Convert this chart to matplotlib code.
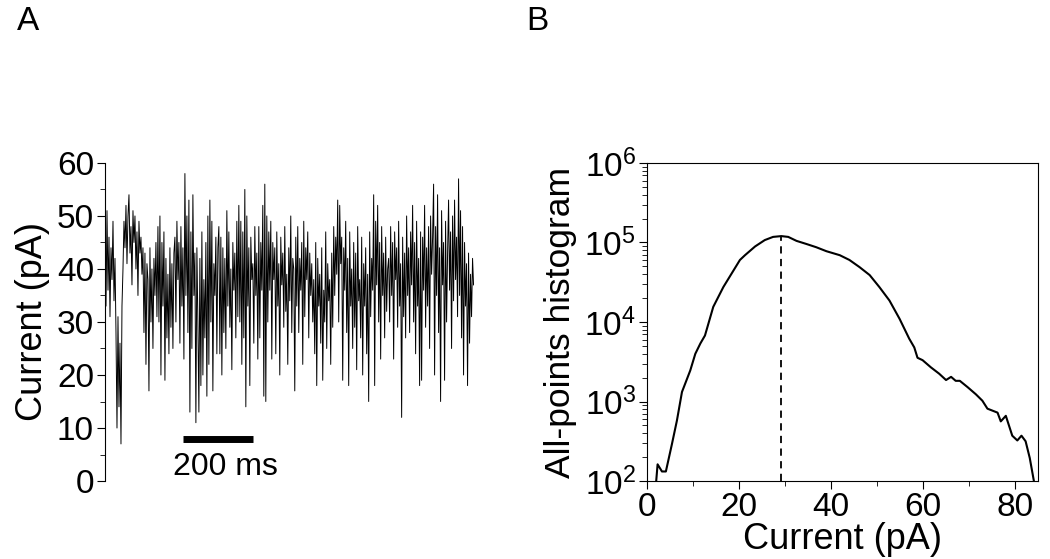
import matplotlib
matplotlib.use("Agg")
import matplotlib.pyplot as plt
from matplotlib.ticker import MultipleLocator, LogLocator, NullFormatter
import numpy as np

plt.rcParams['font.family'] = ['Liberation Sans', 'DejaVu Sans']
plt.rcParams['mathtext.fontset'] = 'custom'
plt.rcParams['mathtext.rm'] = 'Liberation Sans'

trace = [
    48, 33, 51, 36, 46, 31, 44, 38, 49, 34, 42,
    28, 10, 31, 14, 26, 7, 33,
    40, 49, 44, 52, 41, 50, 54, 43, 48, 37, 51, 45, 50, 40, 47, 35, 49, 43, 46, 39, 44,
    28, 43, 22, 41, 38, 17, 44, 30, 40, 25, 42, 35, 45, 31,
    48, 30, 50, 20, 45, 33, 47, 19, 42, 27, 39, 24, 44, 29, 41, 25, 43,
    46, 30, 49, 38, 45, 26, 48, 33, 44, 23, 58, 35, 50, 28, 53, 13, 47, 25, 54, 35, 43, 11, 44, 30,
    13, 42, 18, 47, 20, 38, 27, 45, 16, 50, 22, 53, 30, 49, 17, 41, 35, 46, 24, 44,
    48, 24, 46, 20, 44, 28, 42, 25, 51, 33, 47, 29, 40, 21, 45, 36, 43, 27, 49, 31,
    52, 30, 49, 22, 47, 27, 55, 14, 50, 33, 44, 18, 46, 38, 41, 26, 48, 35, 43, 23,
    48, 27, 45, 36, 52, 16, 56, 15, 50, 30, 47, 36, 49, 23, 45, 38, 44, 24, 47, 33,
    41, 20, 46, 37, 43, 29, 48, 32, 39, 22, 44, 34, 50, 28, 42,
    40, 17, 46, 33, 48, 28, 42, 36, 45, 22, 49, 31, 44, 38, 47, 27, 43, 35, 41, 30,
    38, 24, 45, 18, 42, 33, 39, 26, 44, 19, 36, 30, 47, 25, 41, 34, 38, 22, 43, 29,
    48, 35, 46, 39, 53, 30, 52, 41, 46, 19, 44, 36, 49, 28, 42, 18, 47, 33, 40, 25,
    45, 29, 43, 21, 48, 34, 38, 27, 46, 20, 41, 33, 44, 24, 39, 15, 47, 31, 42, 36,
    54, 18, 49, 37, 52, 30, 45, 23, 48, 35, 43, 27, 46, 32, 40,
    42, 30, 48, 35, 45, 23, 47, 38, 44, 29, 49, 33, 41, 12, 46, 31, 43, 27, 50, 35,
    44, 28, 47, 37, 52, 30, 45, 24, 49, 33, 42, 18, 47, 19, 46, 36, 52, 29, 44, 33,
    48, 25, 50, 39, 46, 56, 20, 48, 35, 54, 28, 44, 15, 51, 37, 45, 19, 49, 30, 43,
    53, 36, 47, 25, 50, 34, 53, 38, 46, 31, 57, 35, 51, 27, 48, 20, 45, 33, 41, 18,
    43, 26, 39, 31, 42, 37,
]
duration_ms = 1044

# panel B: all-points histogram (current in pA, log10 of counts)
hist_current = [2.0, 2.3, 3.25, 4.1, 5.4, 6.5, 7.6, 9.4, 10.5, 11.6, 12.6, 14.4, 16.6,
                18.4, 20.2, 21.3, 23.5, 25.6, 27.4, 29.2, 30.7, 32.5, 34.7, 36.8,
                39.0, 41.9, 44.0, 46.2, 48.4, 50.5, 52.7, 54.9, 57.0, 58.1, 58.8,
                59.9, 61.7, 63.5, 65.0, 66.1, 67.1, 68.0, 69.7, 71.5, 72.9, 74.0,
                76.2, 76.9, 78.0, 79.4, 80.5, 81.4, 82.3, 83.2, 84.1]
hist_log = [2.0, 2.21, 2.12, 2.12, 2.46, 2.76, 3.12, 3.39, 3.6, 3.73, 3.83, 4.19, 4.44,
            4.61, 4.78, 4.84, 4.95, 5.03, 5.07, 5.08, 5.07, 5.02, 4.98, 4.94,
            4.89, 4.84, 4.78, 4.69, 4.59, 4.44, 4.27, 4.04, 3.79, 3.68, 3.55,
            3.52, 3.43, 3.35, 3.27, 3.31, 3.26, 3.26, 3.18, 3.09, 3.01, 2.91,
            2.86, 2.75, 2.82, 2.57, 2.51, 2.57, 2.50, 2.29, 2.0]
peak_current = 29.2
peak_log = 5.08

fig = plt.figure(figsize=(10.5, 5.59), dpi=100)

# ---- A ----
axA = fig.add_axes([0.1, 0.1395, 0.351, 0.569])
t = np.linspace(0, duration_ms, len(trace))
axA.plot(t, trace, color='black', lw=0.7)
axA.set_xlim(0, duration_ms)
axA.set_ylim(0, 60)
for s in ['top', 'right', 'bottom']:
    axA.spines[s].set_visible(False)
axA.set_xticks([])
axA.yaxis.set_major_locator(MultipleLocator(10))
axA.yaxis.set_minor_locator(MultipleLocator(5))
axA.tick_params(axis='y', which='major', length=6, labelsize=24, direction='out', pad=2)
axA.tick_params(axis='y', which='minor', length=3.5, direction='out')
axA.set_ylabel('Current (pA)', fontsize=26, labelpad=5)
# scale bar
axA.plot([220, 420], [8, 8], color='black', lw=5, solid_capstyle='butt')
axA.text(340, 2.6, '200 ms', fontsize=23, ha='center', va='center')

# ---- B ----
axB = fig.add_axes([0.6162, 0.1395, 0.3724, 0.569])
axB.plot(hist_current, 10 ** np.array(hist_log), color='black', lw=1.5)
axB.vlines(peak_current, 1e2, 10 ** peak_log, colors='black', linestyles=(0, (4, 3)), lw=1.3)
axB.set_yscale('log')
axB.set_xlim(0, 85)
axB.set_ylim(1e2, 1e6)
axB.xaxis.set_major_locator(MultipleLocator(20))
axB.xaxis.set_minor_locator(MultipleLocator(10))
axB.yaxis.set_major_locator(LogLocator(base=10, numticks=10))
axB.yaxis.set_minor_locator(LogLocator(base=10, subs=np.arange(2, 10), numticks=10))
axB.yaxis.set_minor_formatter(NullFormatter())
axB.tick_params(which='major', length=6, labelsize=24, direction='out', pad=2)
axB.tick_params(which='minor', length=3.5, direction='out')
axB.set_xlabel('Current (pA)', fontsize=26, labelpad=-1)
axB.set_ylabel('All-points histogram', fontsize=25.5, labelpad=5)

fig.text(0.016, 0.962, 'A', fontsize=24, ha='left', va='center')
fig.text(0.501, 0.962, 'B', fontsize=24, ha='left', va='center')

fig.savefig('out.png', dpi=100)
